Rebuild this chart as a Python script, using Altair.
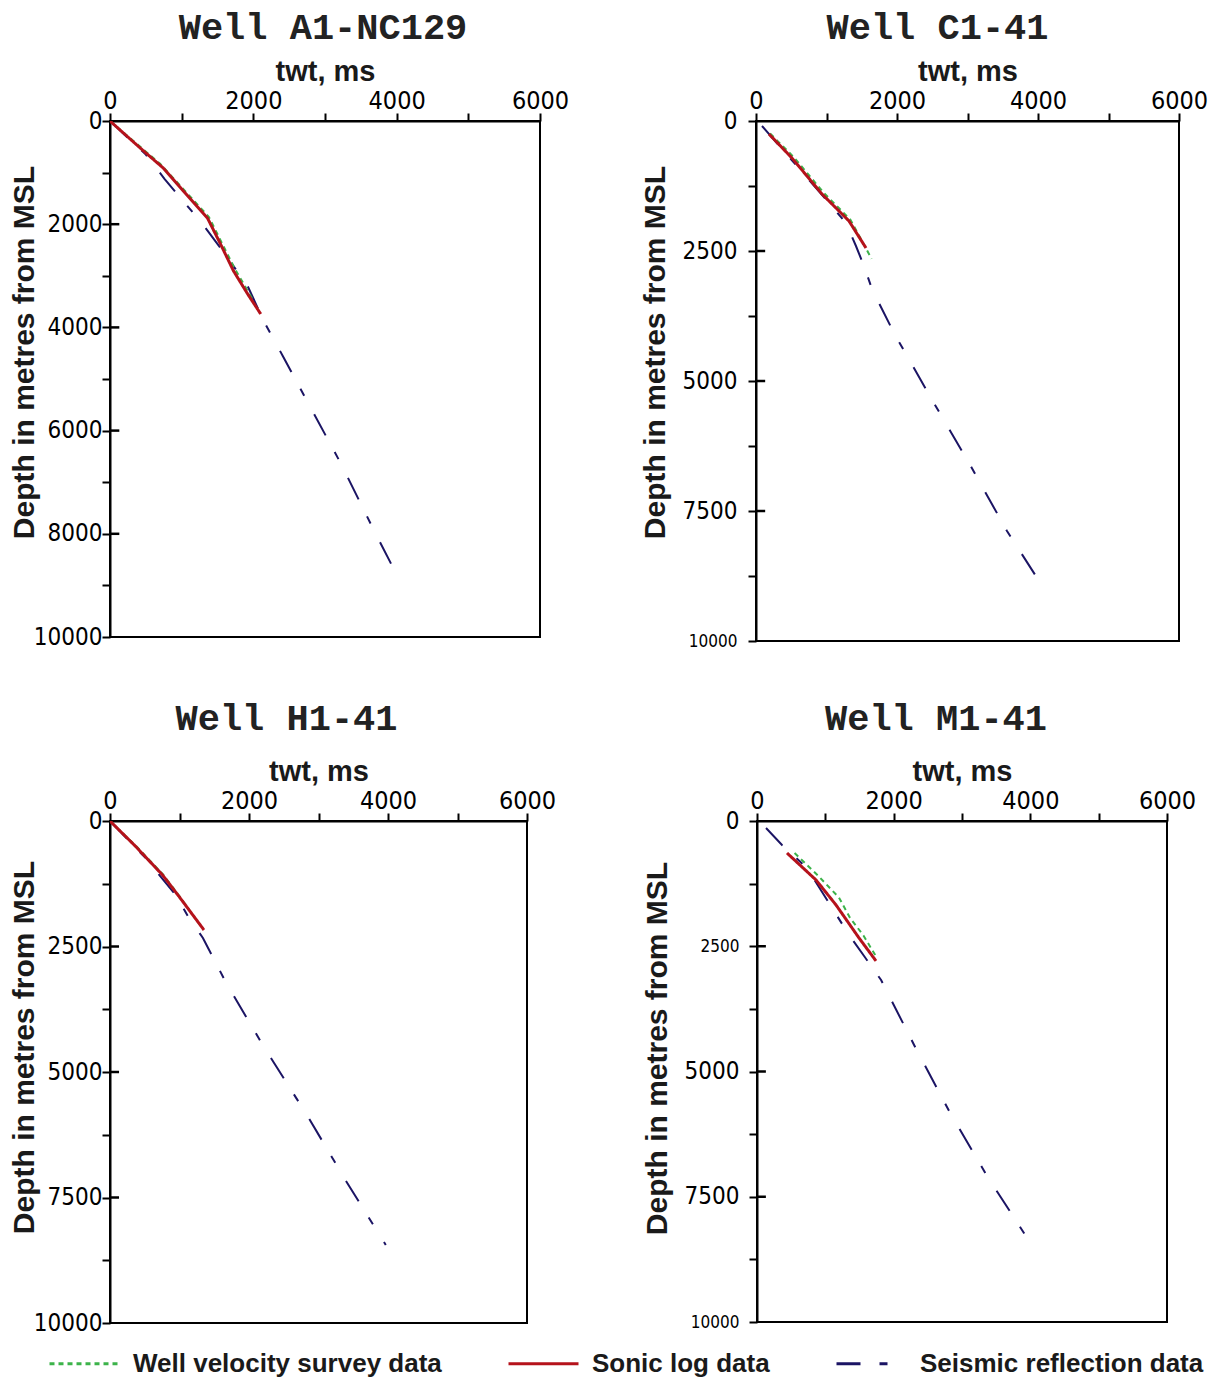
import altair as alt
import pandas as pd

SERIES = ["Well velocity survey data", "Sonic log data", "Seismic reflection data"]
COLORS = ["#3cb34a", "#b5121b", "#1b1464"]
DASHES = [[5, 4], [1, 0], [24, 19, 8, 21]]

# ---- Well A1-NC129 ----
a1_sonic_twt = [0, 421, 743, 1023, 1360, 1542, 1724, 1921, 2103]
a1_sonic_depth = [0, 523, 911, 1357, 1880, 2384, 2907, 3353, 3740]
a1_vel_twt = [0, 700, 1380, 1740, 2000]
a1_vel_depth = [0, 830, 1860, 2860, 3480]
a1_seis_twt = [0, 500, 760, 1020, 1260, 1600, 1920, 2145, 2411, 2734, 3225, 3687, 4024]
a1_seis_depth = [0, 650, 1120, 1550, 1940, 2570, 3198, 3876, 4554, 5388, 6647, 7946, 8857]
a1_major = [2000, 4000, 6000, 8000]

# ---- Well C1-41 ----
c1_sonic_twt = [184, 510, 936, 1319, 1560]
c1_sonic_depth = [250, 712, 1404, 1923, 2442]
c1_vel_twt = [200, 540, 960, 1340, 1640]
c1_vel_depth = [240, 700, 1380, 1900, 2650]
c1_seis_twt = [85, 500, 865, 1277, 1418, 1532, 1645, 1957, 2482, 3021, 3560, 4043]
c1_seis_depth = [96, 740, 1308, 1962, 2404, 2788, 3231, 4077, 5327, 6577, 7885, 8904]
c1_major = [2500, 5000, 7500]

# ---- Well H1-41 ----
h1_sonic_twt = [0, 363, 756, 988, 1352]
h1_sonic_depth = [0, 498, 1076, 1494, 2171]
h1_vel_twt = [0, 370, 760, 990, 1300]
h1_vel_depth = [0, 490, 1060, 1480, 2080]
h1_seis_twt = [0, 500, 945, 1119, 1337, 1672, 2224, 2834, 3387, 3968]
h1_seis_depth = [0, 720, 1474, 1892, 2331, 3227, 4522, 5857, 7151, 8446]
h1_major = [2500, 5000, 7500]

# ---- Well M1-41 ----
m1_sonic_twt = [439, 864, 1157, 1493, 1742]
m1_sonic_depth = [639, 1178, 1677, 2335, 2794]
m1_vel_twt = [550, 900, 1200, 1360, 1560, 1740]
m1_vel_depth = [640, 1100, 1530, 1930, 2290, 2700]
m1_seis_twt = [132, 366, 732, 1347, 1567, 1816, 2299, 2811, 3367, 3982]
m1_seis_depth = [140, 479, 938, 2275, 2695, 3174, 4471, 5788, 7086, 8383]
m1_major = [2500, 5000, 7500]

NARROW = "Liberation Sans Narrow, Arial Narrow, DejaVu Sans Condensed, sans-serif"
BOLD = "Liberation Sans, Arial, sans-serif"

legend = alt.Legend(
    orient="none", legendX=-62, legendY=1206, direction="horizontal", title=None,
    symbolType="stroke", symbolStrokeWidth=3, symbolSize=4900, labelFontSize=26,
    labelFontWeight="bold", labelFont=BOLD, labelColor="#1a1a1a", columnPadding=60,
    labelOffset=12, labelLimit=0,
)
color = lambda: alt.Color("series:N", scale=alt.Scale(domain=SERIES, range=COLORS), legend=legend)
dash = lambda: alt.StrokeDash("series:N", scale=alt.Scale(domain=SERIES, range=DASHES), legend=legend)


def frame(series, twt, depth):
    return pd.DataFrame({"series": series, "twt": twt, "depth": depth})


def panel(title, vel, sonic, seis, major, w, h, ystep, lstep, title_dx, title_off,
          small_labels, lab_pad, tit_pad, tit_y):
    xax = alt.Axis(
        orient="top", title="twt, ms", values=list(range(0, 6001, 1000)), format="d",
        labelExpr="datum.value % 2000 == 0 ? datum.label : ''",
        tickSize=8, tickWidth=2, tickColor="black", domainColor="black", domainWidth=2,
        labelFont=NARROW, labelFontSize=25, labelColor="black", labelPadding=0,
        titleFont=BOLD, titleFontWeight="bold", titleFontSize=29, titlePadding=2,
        titleColor="#1a1a1a", grid=False, labelFlush=False,
    )
    cond = " || ".join(f"datum.value == {v}" for v in small_labels) if small_labels else "false"
    yax = alt.Axis(
        title="Depth in metres from MSL", values=list(range(0, 10001, ystep)), format="d",
        labelExpr=f"datum.value % {lstep} == 0 ? datum.label : ''",
        tickSize=8, tickWidth=2, tickColor="black", domainColor="black", domainWidth=2,
        labelFont=NARROW, labelColor="black", labelPadding=lab_pad,
        labelFontSize={"condition": {"test": cond, "value": 17}, "value": 24},
        titleFont=BOLD, titleFontWeight="bold", titleFontSize=30, titlePadding=tit_pad,
        titleY=tit_y, titleColor="#1a1a1a", grid=False,
    )
    x = alt.X("twt:Q", scale=alt.Scale(domain=[0, 6000], nice=False), axis=xax)
    y = alt.Y("depth:Q", scale=alt.Scale(domain=[0, 10000], reverse=True, nice=False), axis=yax)
    base = lambda df, sw: alt.Chart(df).mark_line(strokeWidth=sw, clip=True).encode(
        x=x, y=y, color=color(), strokeDash=dash()
    )
    inner_ticks = alt.Chart(pd.DataFrame({"depth": major})).mark_rule(
        color="black", strokeWidth=2.5
    ).encode(y=y, x=alt.datum(0), x2=alt.datum(130))
    layers = alt.layer(
        base(frame(SERIES[2], *seis), 2),
        base(frame(SERIES[0], *vel), 2),
        base(frame(SERIES[1], *sonic), 3),
        inner_ticks,
    )
    return layers.properties(
        width=w, height=h,
        title=alt.TitleParams(title, font="Liberation Mono", fontSize=37, fontWeight="bold",
                              color="#222222", dx=title_dx, offset=title_off),
    )


p1 = panel("Well A1-NC129", (a1_vel_twt, a1_vel_depth), (a1_sonic_twt, a1_sonic_depth),
           (a1_seis_twt, a1_seis_depth), a1_major, 430, 516, 1000, 2000, -2, 10, [], 0, -6, 231)
p2 = panel("Well C1-41", (c1_vel_twt, c1_vel_depth), (c1_sonic_twt, c1_sonic_depth),
           (c1_seis_twt, c1_seis_depth), c1_major, 423, 520, 1250, 2500, -30, 10, [10000], 11, 12, 231)
p3 = panel("Well H1-41", (h1_vel_twt, h1_vel_depth), (h1_sonic_twt, h1_sonic_depth),
           (h1_seis_twt, h1_seis_depth), h1_major, 417, 502, 1250, 2500, -32, 19, [], 0, -6, 226)
p4 = panel("Well M1-41", (m1_vel_twt, m1_vel_depth), (m1_sonic_twt, m1_sonic_depth),
           (m1_seis_twt, m1_seis_depth), m1_major, 410, 501, 1250, 2500, -26, 19, [2500, 10000], 10, 12, 227)

row1 = alt.hconcat(p1, p2, spacing=69)
row2 = alt.hconcat(p3, p4, spacing=84)
chart = alt.vconcat(row1, row2, spacing=49).properties(padding=0).configure(
    background="white"
).configure_view(stroke="black", strokeWidth=2)

chart.save("out.html", embed_options={"renderer": "svg", "actions": False})
